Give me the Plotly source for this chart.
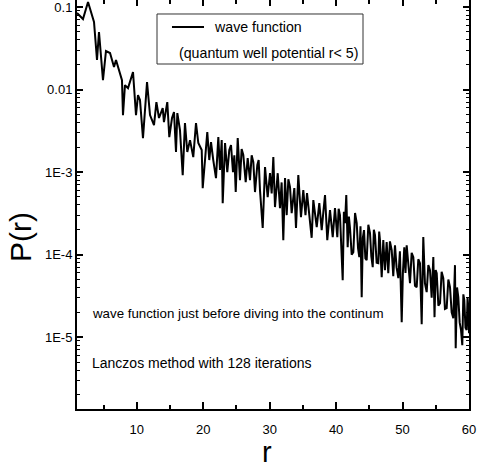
import plotly.graph_objects as go

# ---- data ----
r_vals = [
    1.00, 1.90, 2.66, 3.56, 4.01, 4.31, 4.91, 5.36, 5.97, 6.57, 6.87, 7.77, 7.92, 8.22,
    8.68, 9.43, 9.88, 10.18, 10.48, 10.93, 11.54, 11.99, 12.59, 12.95,
    13.34, 13.90, 14.09, 14.59, 14.89, 15.30, 15.60, 15.90, 16.10, 16.50, 16.91, 17.25,
    17.60, 18.01, 18.50, 18.91, 19.26, 19.77, 19.92, 20.61, 20.91, 21.17, 21.51, 21.92,
    22.27, 22.52, 22.78, 22.93, 23.28, 23.62, 23.92,
    24.18, 24.48, 24.68, 24.89, 25.19, 25.53, 25.78, 26.03, 26.39, 26.69, 27.04, 27.29,
    27.54, 27.79, 28.14, 28.34, 28.54, 28.95, 29.30, 29.70, 30.05, 30.30, 30.55, 30.80,
    31.21, 31.55, 31.80, 32.05, 32.31, 32.56, 32.81, 33.06, 33.31, 33.71, 33.96, 34.31,
    34.71, 35.06,
    35.39, 35.62, 36.07, 36.32, 36.57, 36.82, 37.08, 37.47, 37.83, 38.08, 38.33, 38.67,
    39.08, 39.49, 39.83,
    40.18, 40.38, 40.58, 40.78, 40.99, 41.17, 41.34, 41.53, 41.74, 41.92, 42.09, 42.34,
    42.59, 42.85, 43.10, 43.30, 43.49, 43.67, 43.85, 44.02, 44.20, 44.40, 44.60, 44.85,
    45.10, 45.30, 45.51, 45.68, 45.85, 46.10, 46.35, 46.48, 46.60, 46.86, 46.98, 47.10,
    47.35, 47.61, 47.85, 48.10, 48.37, 48.60, 48.86, 49.10, 49.36, 49.60, 49.87, 50.05,
    50.26, 50.44, 50.62, 50.87, 51.12, 51.37, 51.62, 51.87, 52.13, 52.37, 52.62, 52.88,
    53.12, 53.37, 53.63, 53.88, 54.13, 54.38, 54.63, 54.81, 54.98, 55.14, 55.39, 55.64,
    55.88, 56.13, 56.38, 56.64, 56.89, 57.14, 57.39, 57.64, 57.89, 58.00, 58.20, 58.39,
    58.60, 58.80, 58.99, 59.15, 59.29, 59.47, 59.65, 59.78, 59.90, 60.00,
]
p_vals = [
    8.46e-2, 7.16e-2, 1.15e-1, 6.58e-2, 2.28e-2, 4.98e-2, 1.30e-2, 2.93e-2, 2.77e-2, 1.88e-2,
    2.28e-2, 1.30e-2, 4.9e-3, 1.13e-2, 1.04e-2, 1.63e-2, 4.9e-3, 8.57e-3, 7.46e-3, 2.58e-3,
    1.23e-2, 4.9e-3, 3.71e-3, 7.06e-3,
    4.52e-3, 5.97e-3, 4.04e-3, 7.06e-3, 2.65e-3, 4.52e-3, 5.33e-3, 1.75e-3, 5.19e-3, 3.23e-3,
    9.2e-4, 3.93e-3, 1.75e-3, 2.44e-3, 1.52e-3, 3.93e-3, 2.25e-3, 1.85e-3, 6.4e-4, 3.05e-3,
    1.40e-3, 2.31e-3, 1.40e-3, 8.45e-4, 2.65e-3, 1.06e-3, 2.44e-3, 4.2e-4, 2.25e-3, 1.0e-3,
    1.85e-3,
    2.12e-3, 1.00e-3, 1.6e-3, 5.73e-4, 2.58e-3, 8.0e-4, 1.9e-3, 1.61e-3, 7.57e-4, 1.48e-3,
    8.0e-4, 1.6e-3, 1.32e-3, 5.73e-4, 1.22e-3, 1.4e-3, 6.05e-4, 2.10e-4, 1.15e-3, 4.98e-4,
    9.7e-4, 5.5e-4, 1.52e-3, 3.77e-4, 9.7e-4, 3.66e-4, 7.5e-4, 1.50e-4, 8.45e-4, 3.01e-4,
    8.2e-4, 6.58e-4, 3.18e-4, 6.40e-4, 2.10e-4, 9.2e-4, 2.85e-4, 6.05e-4,
    3.01e-4, 5.57e-4, 2.41e-4, 1.6e-4, 4.58e-4, 3.0e-4, 2.15e-4, 4.21e-4, 1.98e-4, 3.3e-4,
    5.26e-4, 1.50e-4, 3.47e-4, 1.63e-4, 3.66e-4,
    1.63e-4, 3.6e-4, 3.01e-4, 1.3e-4, 4.91e-5, 3.3e-4, 2.41e-4, 5.26e-4, 1.23e-4, 2.9e-4,
    2.10e-4, 1.0e-4, 1.07e-4, 3.2e-4, 2.41e-4, 1.2e-4, 9.33e-5, 2.2e-4, 3.05e-5, 1.6e-4,
    1.98e-4, 9.0e-5, 8.57e-5, 2.3e-4, 1.82e-4, 9.5e-5, 7.06e-5, 2.0e-4, 1.72e-4, 8.0e-5,
    7.89e-5, 1.9e-4, 1.50e-4, 5.33e-5, 1.2e-4, 1.50e-4, 6.5e-5, 1.42e-4, 5.97e-5, 1.45e-4,
    1.13e-4, 5.5e-5, 1.30e-4, 7.0e-5, 5.19e-5, 1.1e-4, 1.52e-5, 6.0e-5, 1.23e-4, 6.0e-5,
    1.30e-4, 7.5e-5, 4.52e-5, 1.05e-4, 9.33e-5, 4.2e-5, 4.04e-5, 8.8e-5, 7.89e-5, 1.44e-5,
    1.63e-4, 4.5e-5, 3.52e-5, 7.5e-5, 6.49e-5, 3.0e-5, 9.33e-5, 1.75e-5, 6.5e-5, 5.97e-5,
    2.4e-5, 2.58e-5, 6.2e-5, 5.19e-5, 2.2e-5, 2.25e-5, 5.0e-5, 4.04e-5, 2.0e-5, 1.70e-5,
    7.46e-5, 7.36e-6, 4.0e-5, 3.05e-5, 1.5e-5, 1.22e-5, 8.0e-6, 3.3e-5, 2.81e-5, 1.3e-5,
    1.22e-5, 3.0e-5, 2.31e-5, 1.12e-5,
]

y_tick_vals = [1e-5, 1e-4, 1e-3, 1e-2, 1e-1]
y_tick_text = ["1E-5", "1E-4", "1E-3", "0.01", "0.1"]
x_tick_vals = [10, 20, 30, 40, 50, 60]
x_title = "r"
y_title = "P(r)"
legend_line1 = "wave function"
legend_line2 = "(quantum well potential r< 5)"
note1 = "wave function just before diving into the continum"
note2 = "Lanczos method with 128 iterations"

FONT = "Liberation Sans, Arial, sans-serif"

minor_y = [m * 10.0 ** e for e in range(-6, 0) for m in range(2, 10)]

fig = go.Figure()
fig.add_trace(go.Scatter(x=r_vals, y=p_vals, mode="lines",
                         line=dict(color="black", width=2), showlegend=False))
# helper trace to create the top (tick-only) axis
fig.add_trace(go.Scatter(x=[None], y=[None], xaxis="x2", yaxis="y",
                         showlegend=False, hoverinfo="skip"))

fig.update_layout(
    width=480, height=471,
    margin=dict(l=77, r=11, t=0, b=62, autoexpand=False),
    paper_bgcolor="white", plot_bgcolor="white",
    font=dict(family=FONT, color="black"),
    xaxis=dict(range=[1, 60], showgrid=False, zeroline=False, automargin=False,
               showline=True, linecolor="black", linewidth=2,
               ticks="inside", ticklen=7, tickwidth=1.5, tickcolor="black",
               tickmode="array", tickvals=x_tick_vals,
               ticktext=[str(v) for v in x_tick_vals],
               tickfont=dict(size=13, family=FONT), ticklabeloverflow="allow",
               ticklabelstandoff=7,
               minor=dict(ticks="inside", ticklen=4, tickwidth=1.5,
                          tickcolor="black", dtick=5, tick0=0)),
    xaxis2=dict(range=[1, 60], overlaying="x", side="top", matches="x",
                showgrid=False, zeroline=False, showline=False, automargin=False,
                ticks="inside", ticklen=6, tickwidth=1.5, tickcolor="black",
                tickmode="array", tickvals=x_tick_vals, showticklabels=False,
                minor=dict(ticks="inside", ticklen=4, tickwidth=1.5,
                           tickcolor="black", dtick=5, tick0=0)),
    yaxis=dict(type="log", range=[-5.87, -0.915], showgrid=False, zeroline=False,
               automargin=False,
               showline=True, linecolor="black", linewidth=2, mirror="ticks",
               ticks="inside", ticklen=6, tickwidth=1.5, tickcolor="black",
               tickmode="array", tickvals=y_tick_vals, ticktext=y_tick_text,
               tickfont=dict(size=13, family=FONT), ticklabeloverflow="allow",
               minor=dict(ticks="inside", ticklen=3, tickwidth=1.2,
                          tickcolor="black", tickmode="array", tickvals=minor_y)),
)

# axis titles
fig.add_annotation(xref="paper", yref="paper", x=-0.1454, y=0.4205,
                   xanchor="center", yanchor="middle", showarrow=False,
                   textangle=-90, text=y_title, font=dict(size=30, family=FONT))
fig.add_annotation(xref="paper", yref="paper", x=0.4847, y=-0.106,
                   xanchor="center", yanchor="middle", showarrow=False,
                   text=x_title, font=dict(size=29, family=FONT))

# legend box drawn by hand
fig.add_shape(type="rect", xref="paper", yref="paper",
              x0=0.2041, x1=0.7296, y0=0.8435, y1=0.9658,
              line=dict(color="#333333", width=1), fillcolor="white", layer="above")
fig.add_shape(type="line", xref="paper", yref="paper",
              x0=0.2423, x1=0.3240, y0=0.934, y1=0.934,
              line=dict(color="black", width=2))
fig.add_annotation(xref="paper", yref="paper", x=0.3444, y=0.934,
                   xanchor="left", yanchor="middle", showarrow=False,
                   text=legend_line1, font=dict(size=14.2, family=FONT))
fig.add_annotation(xref="paper", yref="paper", x=0.2551, y=0.8704,
                   xanchor="left", yanchor="middle", showarrow=False,
                   text=legend_line2, font=dict(size=14.2, family=FONT))

fig.add_annotation(xref="paper", yref="paper", x=0.0332, y=0.2323,
                   xanchor="left", yanchor="middle", showarrow=False,
                   text=note1, font=dict(size=13.3, family=FONT))
fig.add_annotation(xref="paper", yref="paper", x=0.0332, y=0.1125,
                   xanchor="left", yanchor="middle", showarrow=False,
                   text=note2, font=dict(size=14.0, family=FONT))

fig.write_html(
    "out.html",
    config={"displayModeBar": False},
    post_script="document.body.style.margin='0';document.body.style.overflow='hidden';",
)
